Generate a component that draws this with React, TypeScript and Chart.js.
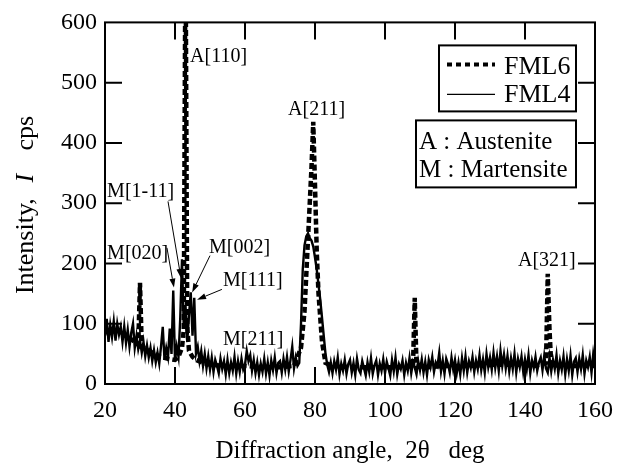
import React, { useEffect, useRef } from 'react';
import { Chart, registerables } from 'chart.js';

Chart.register(...registerables);

const FONT = '"Liberation Serif", "Times New Roman", serif';

// ---- axis settings ----
const xMin = 20;
const xMax = 160;
const xStep = 20;
const yMin = 0;
const yMax = 600;
const yStep = 100;

// ---- FML4 (solid line), diffraction angle (deg) and intensity (cps) ----
const fml4Angles = [
  20, 20.5, 21, 21.5, 22, 22.5, 23, 23.5, 24, 24.5,
  25, 25.5, 26, 26.5, 27, 27.5, 28, 28.5, 29, 29.5,
  30, 30.5, 31, 31.5, 32, 32.5, 33, 33.5, 34, 34.5,
  35, 35.5, 36, 36.5, 37, 37.5, 38, 38.5, 39, 39.5,
  40, 40.5, 41, 41.5, 42, 42.5, 43, 43.5, 44, 44.5,
  45, 45.5, 46, 46.5, 47, 47.5, 48, 48.5, 49, 49.5,
  50, 50.5, 51, 51.5, 52, 52.5, 53, 53.5, 54, 54.5,
  55, 55.5, 56, 56.5, 57, 57.5, 58, 58.5, 59, 59.5,
  60, 60.5, 61, 61.5, 62, 62.5, 63, 63.5, 64, 64.5,
  65, 65.5, 66, 66.5, 67, 67.5, 68, 68.5, 69, 69.5,
  70, 70.5, 71, 71.5, 72, 72.5, 73, 73.5, 74, 74.5,
  75, 75.5, 76, 76.5, 77, 77.5, 78, 78.5, 79, 79.5,
  80, 80.5, 81, 81.5, 82, 82.5, 83, 83.5, 84, 84.5,
  85, 85.5, 86, 86.5, 87, 87.5, 88, 88.5, 89, 89.5,
  90, 90.5, 91, 91.5, 92, 92.5, 93, 93.5, 94, 94.5,
  95, 95.5, 96, 96.5, 97, 97.5, 98, 98.5, 99, 99.5,
  100, 100.5, 101, 101.5, 102, 102.5, 103, 103.5, 104, 104.5,
  105, 105.5, 106, 106.5, 107, 107.5, 108, 108.5, 109, 109.5,
  110, 110.5, 111, 111.5, 112, 112.5, 113, 113.5, 114, 114.5,
  115, 115.5, 116, 116.5, 117, 117.5, 118, 118.5, 119, 119.5,
  120, 120.5, 121, 121.5, 122, 122.5, 123, 123.5, 124, 124.5,
  125, 125.5, 126, 126.5, 127, 127.5, 128, 128.5, 129, 129.5,
  130, 130.5, 131, 131.5, 132, 132.5, 133, 133.5, 134, 134.5,
  135, 135.5, 136, 136.5, 137, 137.5, 138, 138.5, 139, 139.5,
  140, 140.5, 141, 141.5, 142, 142.5, 143, 143.5, 144, 144.5,
  145, 145.5, 146, 146.5, 147, 147.5, 148, 148.5, 149, 149.5,
  150, 150.5, 151, 151.5, 152, 152.5, 153, 153.5, 154, 154.5,
  155, 155.5, 156, 156.5, 157, 157.5, 158, 158.5, 159, 159.5,
  160,
];
const fml4Counts = [
  80, 108, 70, 98, 78, 104, 72, 100, 82, 95,
  70, 96, 68, 90, 62, 85, 100, 60, 80, 58,
  72, 52, 70, 46, 64, 44, 60, 38, 56, 36,
  52, 34, 62, 95, 40, 60, 45, 92, 50, 155,
  38, 62, 45, 110, 207, 95, 130, 70, 115, 152,
  80, 143, 50, 62, 38, 55, 30, 50, 26, 46,
  24, 44, 20, 40, 30, 18, 42, 25, 38, 16,
  40, 18, 36, 22, 45, 17, 38, 20, 42, 24,
  32, 55, 38, 48, 22, 40, 18, 36, 15, 34,
  20, 42, 17, 36, 14, 39, 23, 44, 18, 35,
  38, 19, 42, 24, 45, 21, 40, 62, 26, 44,
  30, 35, 100, 190, 230, 245, 250, 242, 238, 228,
  210, 190, 165, 140, 110, 80, 50, 32, 20, 36,
  18, 38, 24, 44, 16, 34, 22, 40, 17, 33,
  40, 19, 35, 15, 42, 24, 18, 38, 26, 14,
  36, 20, 43, 17, 31, 39, 15, 34, 22, 41,
  18, 37, 26, 14, 40, 21, 44, 16, 33, 25,
  39, 15, 35, 22, 43, 18, 36, 27, 16, 38,
  23, 41, 19, 37, 15, 40, 28, 45, 20, 36,
  30, 52, 21, 39, 17, 42, 33, 19, 44, 24,
  40, 18, 36, 16, 43, 22, 46, 19, 38, 27,
  45, 20, 39, 25, 48, 23, 41, 19, 50, 28,
  44, 24, 52, 27, 46, 22, 55, 30, 49, 26,
  47, 21, 43, 25, 50, 19, 42, 28, 46, 20,
  41, 24, 48, 18, 39, 27, 45, 22, 36, 44,
  23, 47, 26, 19, 44, 21, 40, 25, 48, 18,
  39, 24, 46, 16, 41, 22, 47, 15, 37, 43,
  20, 42, 25, 48, 17, 39, 28, 45, 19, 50,
  30,
];

// ---- FML6 (dashed line) ----
const fml6Angles = [
  20, 22, 24, 26, 28, 29.5, 30, 30.5, 32, 34, 36, 38, 40, 41, 42, 42.5, 43, 43.5, 44, 45,
  46, 48, 50, 55, 60, 65, 70, 74, 76, 77, 78, 78.5, 79, 79.5, 80, 80.5, 81, 82, 83, 85,
  90, 95, 100, 105, 108, 108.5, 109, 112, 118, 125, 132, 138, 143, 146, 146.5, 147, 147.5, 150, 155, 160,
];
const fml6Counts = [
  85, 90, 88, 80, 72, 65, 168, 62, 58, 50, 45, 42, 40, 45, 60, 90, 750, 95, 55, 45,
  40, 35, 32, 30, 30, 28, 28, 30, 60, 120, 240, 300, 360, 435, 330, 220, 150, 70, 35, 30,
  28, 28, 28, 28, 30, 143, 30, 28, 30, 30, 32, 32, 30, 35, 183, 90, 32, 30, 30, 30,
];

// ---- peak labels (left x in deg, baseline in cps) ----
const peakLabels = ['A[110]', 'A[211]', 'M[1-11]', 'M[020]', 'M[002]', 'M[111]', 'M[211]', 'A[321]'];
const peakLabelX = [44.3, 72.3, 20.6, 20.6, 49.7, 53.7, 53.7, 138.0];
const peakLabelY = [534, 447, 311, 208, 218, 163, 64, 196];

// ---- arrows (from label to peak) ----
const arrowFromX = [38.0, 37.7, 50.0, 53.4];
const arrowFromY = [303, 226, 213, 157];
const arrowToX = [41.7, 39.7, 44.9, 46.3];
const arrowToY = [176, 160, 152, 140];

const legendNames = ['FML6', 'FML4'];
const phaseNotes = ['A : Austenite', 'M : Martensite'];

const toPoints = (xs: number[], ys: number[]) => xs.map((x, i) => ({ x, y: ys[i] }));

const decorPlugin = {
  id: 'decor',
  afterDatasetsDraw(chart: any) {
    const { ctx, chartArea: a, scales } = chart;
    const xs = scales.x;
    const ys = scales.y;
    ctx.save();

    // frame
    ctx.strokeStyle = '#000';
    ctx.lineWidth = 2;
    ctx.strokeRect(a.left, a.top, a.right - a.left, a.bottom - a.top);

    // inward tick marks on all four sides
    const TL = 17;
    ctx.beginPath();
    xs.ticks.forEach((t: any) => {
      const px = xs.getPixelForValue(t.value);
      if (px <= a.left + 1 || px >= a.right - 1) return;
      ctx.moveTo(px, a.bottom);
      ctx.lineTo(px, a.bottom - TL);
      ctx.moveTo(px, a.top);
      ctx.lineTo(px, a.top + TL);
    });
    ys.ticks.forEach((t: any) => {
      const py = ys.getPixelForValue(t.value);
      if (py <= a.top + 1 || py >= a.bottom - 1) return;
      ctx.moveTo(a.left, py);
      ctx.lineTo(a.left + TL, py);
      ctx.moveTo(a.right, py);
      ctx.lineTo(a.right - TL, py);
    });
    ctx.stroke();

    // peak labels
    ctx.fillStyle = '#000';
    ctx.font = `20px ${FONT}`;
    ctx.textAlign = 'left';
    ctx.textBaseline = 'alphabetic';
    peakLabels.forEach((txt, i) => {
      ctx.fillText(txt, xs.getPixelForValue(peakLabelX[i]), ys.getPixelForValue(peakLabelY[i]));
    });

    // arrows
    ctx.lineWidth = 1;
    arrowFromX.forEach((fx, i) => {
      const x0 = xs.getPixelForValue(fx);
      const y0 = ys.getPixelForValue(arrowFromY[i]);
      const x1 = xs.getPixelForValue(arrowToX[i]);
      const y1 = ys.getPixelForValue(arrowToY[i]);
      const ang = Math.atan2(y1 - y0, x1 - x0);
      const hl = 9;
      const hw = 3;
      const bx = x1 - hl * Math.cos(ang);
      const by = y1 - hl * Math.sin(ang);
      ctx.beginPath();
      ctx.moveTo(x0, y0);
      ctx.lineTo(bx, by);
      ctx.stroke();
      ctx.beginPath();
      ctx.moveTo(x1, y1);
      ctx.lineTo(bx + hw * Math.sin(ang), by - hw * Math.cos(ang));
      ctx.lineTo(bx - hw * Math.sin(ang), by + hw * Math.cos(ang));
      ctx.closePath();
      ctx.fill();
    });

    // legend box
    const lgL = a.right - 156;
    const lgR = a.right - 19;
    const lgT = a.top + 23;
    const lgB = a.top + 89;
    ctx.fillStyle = '#fff';
    ctx.fillRect(lgL, lgT, lgR - lgL, lgB - lgT);
    ctx.lineWidth = 2;
    ctx.strokeStyle = '#000';
    ctx.strokeRect(lgL, lgT, lgR - lgL, lgB - lgT);
    // dashed sample
    ctx.lineWidth = 4;
    ctx.setLineDash([5, 4]);
    ctx.beginPath();
    ctx.moveTo(lgL + 8, a.top + 42);
    ctx.lineTo(lgL + 56, a.top + 42);
    ctx.stroke();
    ctx.setLineDash([]);
    ctx.lineWidth = 1.2;
    ctx.beginPath();
    ctx.moveTo(lgL + 8, a.top + 72);
    ctx.lineTo(lgL + 56, a.top + 72);
    ctx.stroke();
    ctx.fillStyle = '#000';
    ctx.font = `26px ${FONT}`;
    ctx.fillText(legendNames[0], lgL + 65, a.top + 52);
    ctx.fillText(legendNames[1], lgL + 65, a.top + 80);

    // phase note box
    const nbL = a.right - 179;
    const nbR = a.right - 19;
    const nbT = a.top + 98;
    const nbB = a.top + 165;
    ctx.fillStyle = '#fff';
    ctx.fillRect(nbL, nbT, nbR - nbL, nbB - nbT);
    ctx.lineWidth = 2;
    ctx.strokeRect(nbL, nbT, nbR - nbL, nbB - nbT);
    ctx.fillStyle = '#000';
    ctx.font = `25px ${FONT}`;
    ctx.fillText(phaseNotes[0], nbL + 3, a.top + 127);
    ctx.fillText(phaseNotes[1], nbL + 3, a.top + 155);

    // y axis title with italic I
    const cy = (a.top + a.bottom) / 2;
    ctx.save();
    ctx.translate(33, cy);
    ctx.rotate(-Math.PI / 2);
    ctx.textAlign = 'center';
    ctx.textBaseline = 'alphabetic';
    ctx.font = `26px ${FONT}`;
    ctx.fillText('Intensity,', -43, 0);
    ctx.font = `italic 26px ${FONT}`;
    ctx.fillText('I', 25, 0);
    ctx.font = `26px ${FONT}`;
    ctx.fillText('cps', 70, 0);
    ctx.restore();

    ctx.restore();
  },
};

export default function App() {
  const ref = useRef<HTMLCanvasElement | null>(null);

  useEffect(() => {
    if (!ref.current) return;
    const chart = new Chart(ref.current, {
      type: 'line',
      data: {
        datasets: [
          {
            label: legendNames[1],
            data: toPoints(fml4Angles, fml4Counts),
            borderColor: '#000',
            borderWidth: 2.4,
            pointRadius: 0,
            tension: 0,
            fill: false,
          },
          {
            label: legendNames[0],
            data: toPoints(fml6Angles, fml6Counts),
            borderColor: '#000',
            borderWidth: 4.5,
            borderDash: [6, 3],
            pointRadius: 0,
            tension: 0,
            fill: false,
          },
        ],
      },
      options: {
        responsive: false,
        animation: false,
        parsing: true,
        layout: { padding: { top: 20, right: 34, left: 0, bottom: 0 } },
        plugins: { legend: { display: false }, tooltip: { enabled: false } },
        scales: {
          x: {
            type: 'linear',
            min: xMin,
            max: xMax,
            grid: { display: false, drawTicks: false },
            border: { display: false },
            ticks: {
              stepSize: xStep,
              color: '#000',
              padding: 12,
              font: { family: FONT, size: 24 },
            },
            title: {
              display: true,
              text: 'Diffraction angle,  2θ   deg',
              color: '#000',
              padding: { top: 0, bottom: 1 },
              font: { family: FONT, size: 25 },
            },
            afterFit: (s: any) => {
              s.height = 83;
            },
          },
          y: {
            type: 'linear',
            min: yMin,
            max: yMax,
            grid: { display: false, drawTicks: false },
            border: { display: false },
            ticks: {
              stepSize: yStep,
              color: '#000',
              padding: 8,
              font: { family: FONT, size: 24 },
            },
            afterFit: (s: any) => {
              s.width = 105;
            },
          },
        },
      },
      plugins: [decorPlugin],
    });
    return () => chart.destroy();
  }, []);

  return (
    <div style={{ position: 'fixed', left: 0, top: 0, width: 629, height: 467, background: '#fff' }}>
      <canvas ref={ref} width={629} height={467} />
    </div>
  );
}
